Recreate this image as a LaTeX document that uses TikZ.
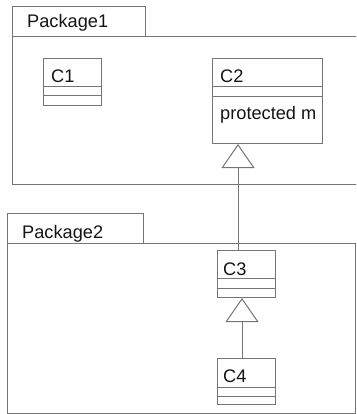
\documentclass[tikz,border=0pt]{standalone}
\usepackage{fontspec}
\setmainfont{Liberation Sans}
\usetikzlibrary{arrows.meta}
\definecolor{edge}{HTML}{757575}
\definecolor{ink}{HTML}{141414}
\tikzset{
  box/.style={draw=edge, line width=1pt, inner sep=0pt, anchor=north west},
  lbl/.style={anchor=base west, inner sep=0pt, text=ink, font=\fontsize{18.2}{20}\selectfont},
  part/.style={draw=edge, line width=1pt},
  gen/.style={draw=edge, line width=1pt, -{Triangle[open, length=24pt, width=33pt, line width=1pt]}},
}
\begin{document}
\begin{tikzpicture}[x=1pt, y=-1pt]
\useasboundingbox (0,0) rectangle (356,414);
\clip (0,0) rectangle (356,414);
% Package1
\node[box, minimum width=133pt, minimum height=30pt] (p1tab) at (12,6) {};
\node[box, minimum width=360pt, minimum height=148pt] (p1) at (12,36) {};
\node[lbl] (p1name) at (27,28) {Package1};
% Package2
\node[box, minimum width=136pt, minimum height=30pt] (p2tab) at (7,213) {};
\node[box, minimum width=348pt, minimum height=170pt] (p2) at (7,243) {};
\node[lbl] (p2name) at (22,238) {Package2};
% C1
\node[box, minimum width=58pt, minimum height=47pt] (c1) at (43,58) {};
\node[lbl] (c1name) at (51,83) {C1};
\draw[part] (43,87) -- (101,87) (43,96) -- (101,96);
% C2
\node[box, minimum width=110pt, minimum height=85pt] (c2) at (212,58) {};
\node[lbl] (c2name) at (220,83) {C2};
\node[lbl] (c2op) at (220,120) {protected m};
\draw[part] (212,87) -- (322,87) (212,97) -- (322,97);
% C3
\node[box, minimum width=58pt, minimum height=47pt] (c3) at (217,250) {};
\node[lbl] (c3name) at (223,275) {C3};
\draw[part] (217,278) -- (275,278) (217,288) -- (275,288);
% C4
\node[box, minimum width=58pt, minimum height=46pt] (c4) at (217,358) {};
\node[lbl] (c4name) at (223,382) {C4};
\draw[part] (217,387) -- (275,387) (217,396) -- (275,396);
% generalizations
\coordinate (g1) at (238,0);
\coordinate (g2) at (242,0);
\draw[gen] (c3.north -| g1) -- (c2.south -| g1);
\draw[gen] (c4.north -| g2) -- (c3.south -| g2);
\end{tikzpicture}
\end{document}
